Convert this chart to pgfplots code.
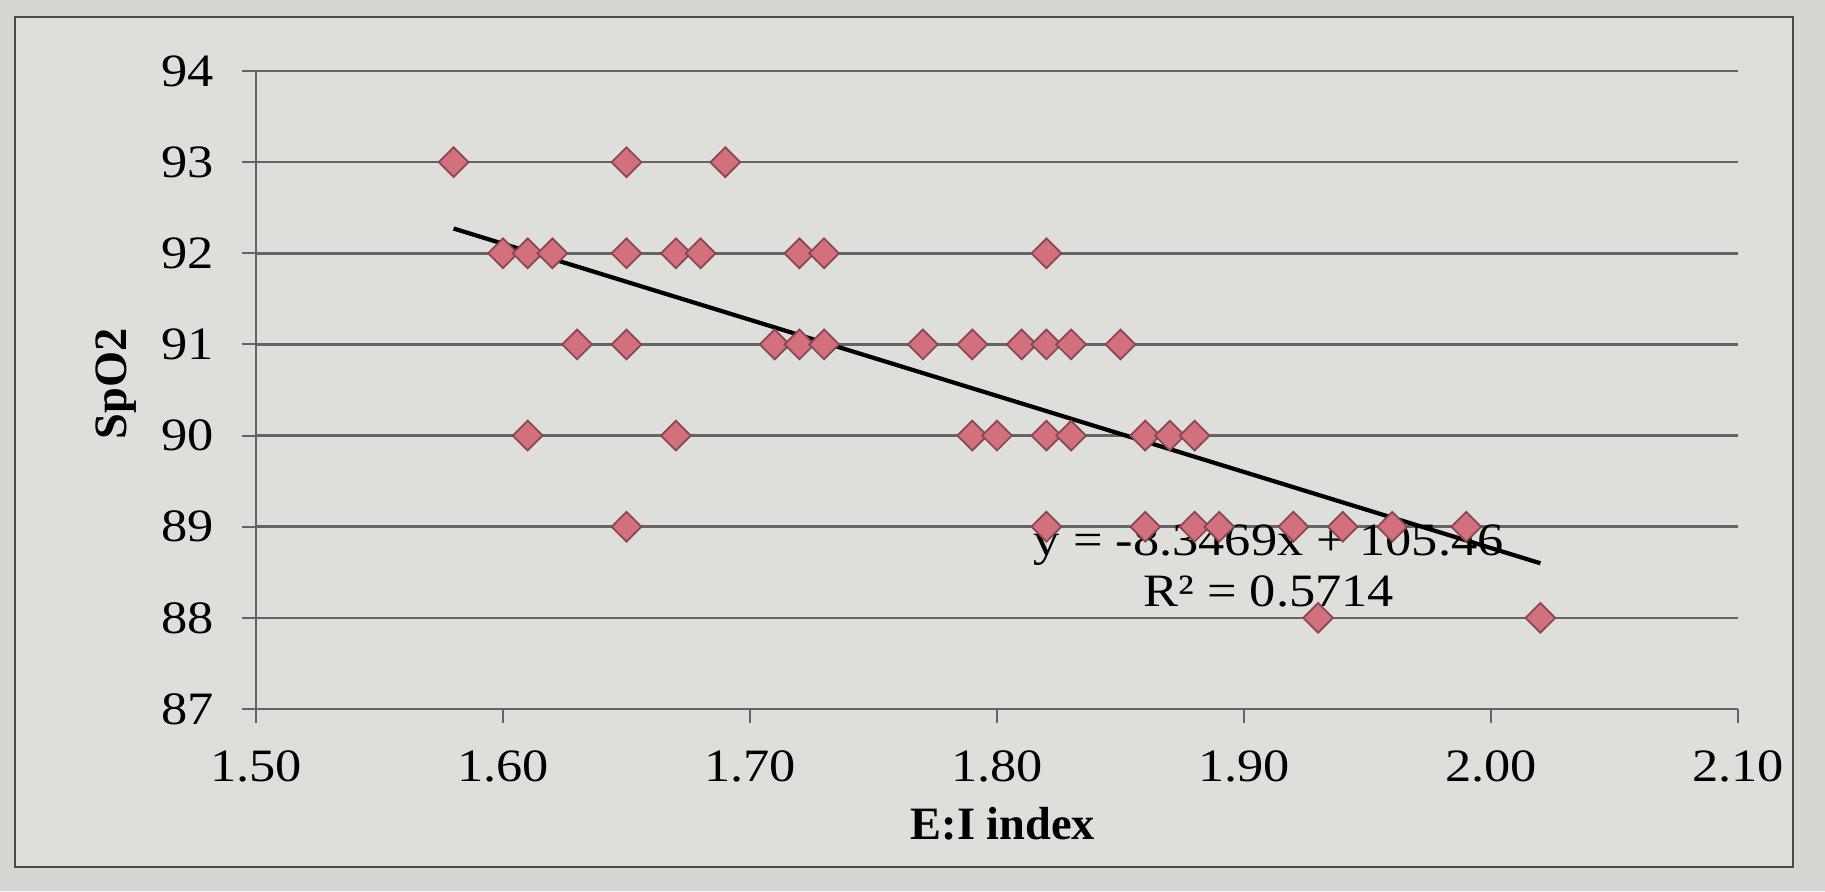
\documentclass[border=0pt]{standalone}
\usepackage{fontspec}
\setmainfont{Liberation Serif}
\newfontfamily\widefont{Liberation Serif}[FakeStretch=1.13]
\usepackage{pgfplots}
\pgfplotsset{compat=1.18}
\definecolor{pagebg}{RGB}{214,214,210}
\definecolor{plotbg}{RGB}{222,222,219}
\definecolor{gridc}{RGB}{100,100,100}
\definecolor{markfill}{RGB}{210,112,124}
\definecolor{markedge}{RGB}{135,72,84}
\newcommand{\tfont}{\widefont\fontsize{13.2}{15}\selectfont}

\pgfplotstableread{
x y
1.58 93
1.65 93
1.69 93
1.60 92
1.61 92
1.62 92
1.65 92
1.67 92
1.68 92
1.72 92
1.73 92
1.82 92
1.63 91
1.65 91
1.71 91
1.72 91
1.73 91
1.77 91
1.79 91
1.81 91
1.82 91
1.83 91
1.85 91
1.61 90
1.67 90
1.79 90
1.80 90
1.82 90
1.83 90
1.86 90
1.87 90
1.88 90
1.65 89
1.82 89
1.86 89
1.88 89
1.89 89
1.92 89
1.94 89
1.96 89
1.99 89
1.93 88
2.02 88
}\datatable

\begin{document}
\begin{tikzpicture}
\fill[pagebg] (-2.56cm,-1.82cm) rectangle (15.69cm,7.09cm);
\filldraw[fill=plotbg, draw=gray!60!black, line width=0.4pt] (-2.41cm,-1.58cm) rectangle (15.37cm,6.92cm);
\begin{axis}[
  at={(0,0)}, anchor=south west,
  scale only axis, width=14.82cm, height=6.38cm,
  xmin=1.5, xmax=2.1, ymin=87, ymax=94,
  xtick={1.5,1.6,1.7,1.8,1.9,2.0,2.1},
  ytick={87,88,89,90,91,92,93,94},
  /pgf/number format/assume math mode=true,
  xticklabel style={yshift=-1.5mm, /pgf/number format/.cd, fixed, fixed zerofill, precision=2},
  yticklabel style={xshift=-1.6mm},
  ticklabel style={font=\tfont},
  axis lines=left, axis line style={-, gridc, line width=0.6pt},
  ymajorgrids, major grid style={gridc, line width=0.7pt},
  tick align=outside, major tick length=1.4mm,
  tick style={gridc, line width=0.6pt},
  xlabel={\textbf{E:I index}}, ylabel={\textbf{SpO2}},
  label style={font=\fontsize{13.2}{15}\selectfont},
  x label style={at={(axis description cs:0.504,-0.18)}, anchor=center},
  y label style={at={(axis description cs:-0.0945,0.51)}, anchor=center},
  clip=false,
]
\addplot[only marks, mark=square*, mark size=3.0pt,
  mark options={rotate=45, fill=markfill, draw=markedge, line width=0.5pt}]
  table[x=x, y=y] {\datatable};
\addplot[black, line width=1.2pt] coordinates {(1.58,92.272) (2.02,88.599)};
\node[font=\tfont, inner sep=0pt] at (axis cs:1.910,88.80) {y = -8.3469x + 105.46};
\node[font=\tfont, inner sep=0pt] at (axis cs:1.910,88.29) {R² = 0.5714};
\end{axis}
\end{tikzpicture}
\end{document}
